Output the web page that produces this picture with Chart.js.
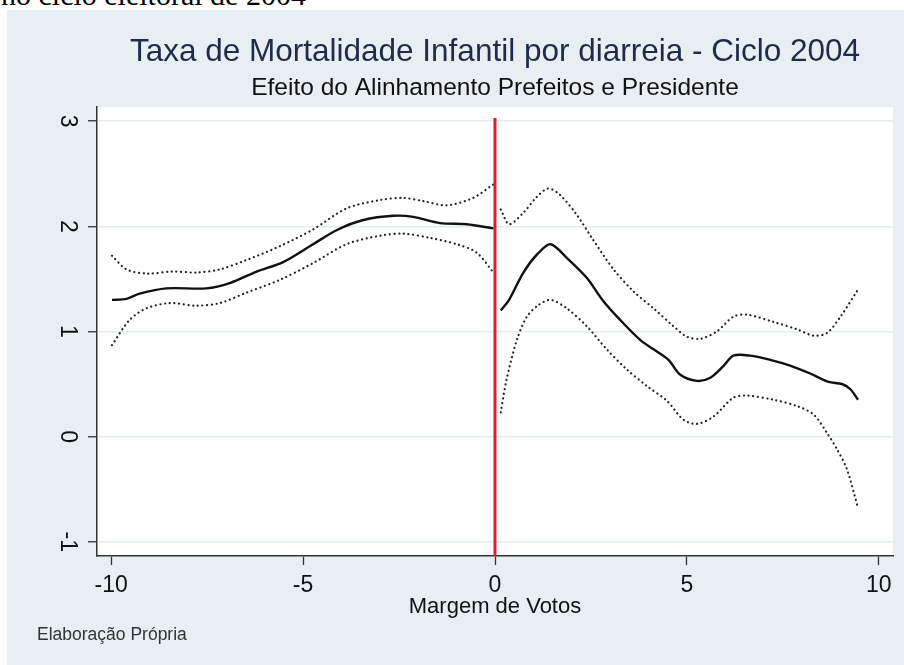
<!DOCTYPE html>
<html>
<head>
<meta charset="utf-8">
<script src="https://cdn.jsdelivr.net/npm/chart.js@4.4.1/dist/chart.umd.min.js"></script>
<style>
  body { margin: 0; width: 904px; height: 665px; overflow: hidden; position: relative; background: #fff; font-family: "Liberation Sans", Arial, sans-serif; }
  #panel { position: absolute; left: 7px; top: 10px; right: 0; bottom: 0; background: #e8eef1; }
  #doc { position: absolute; left: 1px; top: -20px; font-family: "Liberation Serif", "Times New Roman", serif; font-size: 30px; line-height: 30px; color: #000; white-space: nowrap; }
  #note { position: absolute; left: 37px; top: 626px; font-size: 17.5px; line-height: 17px; color: #333; white-space: nowrap; }
  #wrap { position: absolute; left: 0; top: 0; width: 904px; height: 665px; }
</style>
</head>
<body>
<div id="panel"></div>
<div id="doc">no ciclo eleitoral de 2004</div>
<div id="wrap"><canvas id="rd-chart"></canvas></div>
<div id="note">Elaboração Própria</div>
<script>
// tick labels
const xTicks = [-10, -5, 0, 5, 10];
const yTicks = [-1, 0, 1, 2, 3];

// [margem, taxa]
const fitLeft = [[-9.98, 1.30], [-9.6, 1.31], [-9.26, 1.36], [-8.56, 1.41], [-7.52, 1.41], [-6.91, 1.46], [-6.21, 1.57], [-5.52, 1.66], [-4.74, 1.83], [-4.09, 1.97], [-3.43, 2.06], [-2.65, 2.10], [-2.13, 2.09], [-1.43, 2.03], [-0.74, 2.02], [-0.04, 1.98]];
const upperLeft = [[-9.98, 1.72], [-9.6, 1.59], [-9.08, 1.55], [-8.39, 1.57], [-7.78, 1.56], [-7.17, 1.59], [-6.47, 1.68], [-5.61, 1.81], [-4.74, 1.97], [-3.87, 2.17], [-3.0, 2.25], [-2.39, 2.27], [-1.87, 2.24], [-1.26, 2.20], [-0.57, 2.27], [-0.04, 2.40]];
const lowerLeft = [[-9.98, 0.87], [-9.52, 1.11], [-9.08, 1.22], [-8.47, 1.27], [-7.78, 1.245], [-7.17, 1.27], [-6.47, 1.37], [-5.61, 1.49], [-4.74, 1.65], [-3.87, 1.83], [-3.0, 1.91], [-2.39, 1.93], [-1.69, 1.89], [-1.0, 1.83], [-0.48, 1.75], [-0.04, 1.56]];

const fitRight = [[0.15, 1.20], [0.35, 1.29], [0.74, 1.56], [1.09, 1.73], [1.45, 1.83], [1.87, 1.70], [2.39, 1.51], [2.82, 1.29], [3.26, 1.11], [3.78, 0.92], [4.13, 0.83], [4.52, 0.73], [4.82, 0.59], [5.26, 0.53], [5.61, 0.56], [5.95, 0.67], [6.21, 0.77], [6.65, 0.77], [7.17, 0.73], [7.69, 0.675], [8.21, 0.60], [8.69, 0.52], [9.04, 0.50], [9.26, 0.45], [9.46, 0.35]];
const upperRight = [[0.15, 2.16], [0.37, 2.02], [0.74, 2.13], [1.09, 2.28], [1.39, 2.36], [1.69, 2.30], [2.13, 2.11], [2.56, 1.87], [3.09, 1.59], [3.61, 1.38], [4.13, 1.22], [4.65, 1.05], [5.0, 0.95], [5.35, 0.93], [5.78, 1.00], [6.21, 1.14], [6.56, 1.16], [7.26, 1.09], [7.87, 1.02], [8.30, 0.96], [8.65, 0.985], [9.0, 1.14], [9.46, 1.40]];
const lowerRight = [[0.15, 0.23], [0.30, 0.54], [0.57, 0.92], [0.83, 1.14], [1.13, 1.25], [1.45, 1.30], [1.87, 1.22], [2.39, 1.05], [2.91, 0.83], [3.43, 0.64], [3.96, 0.48], [4.48, 0.34], [4.91, 0.16], [5.26, 0.12], [5.69, 0.19], [6.21, 0.37], [6.56, 0.39], [7.26, 0.35], [7.87, 0.29], [8.30, 0.21], [8.65, 0.035], [8.91, -0.12], [9.17, -0.31], [9.46, -0.68]];

// vertical line at the cutoff
const cutoff = [[0, -1.14], [0, 3.03]];

const toPts = arr => arr.map(p => ({ x: p[0], y: p[1] }));

Chart.defaults.font.family = '"Liberation Sans", Arial, sans-serif';
Chart.defaults.color = '#111';

const solid = data => ({
    data: toPts(data),
    borderColor: '#111',
    borderWidth: 2.4,
    tension: 0.3,
    pointRadius: 0,
    showLine: true
});
const dotted = data => ({
    data: toPts(data),
    borderColor: '#222',
    borderWidth: 2.2,
    borderDash: [0.1, 4.6],
    borderCapStyle: 'round',
    tension: 0.3,
    pointRadius: 0,
    showLine: true
});

const plotBg = {
    id: 'plotBg',
    beforeDraw(chart) {
        const { ctx, chartArea: a } = chart;
        ctx.save();
        ctx.fillStyle = '#fff';
        ctx.fillRect(a.left, a.top, a.right - a.left, a.bottom - a.top);
        ctx.restore();
    },
    // stata style vertical y labels
    afterDraw(chart) {
        const { ctx } = chart;
        const y = chart.scales.y;
        ctx.save();
        ctx.font = '23px "Liberation Sans", Arial, sans-serif';
        ctx.fillStyle = '#111';
        ctx.textAlign = 'center';
        ctx.textBaseline = 'middle';
        yTicks.forEach(v => {
            ctx.save();
            ctx.translate(67, y.getPixelForValue(v));
            ctx.rotate(Math.PI / 2);
            ctx.fillText(String(v), 0, 0);
            ctx.restore();
        });
        ctx.restore();
    }
};

const ctx = document.getElementById('rd-chart');

const rdChart = new Chart(ctx, {
    type: 'scatter',
    data: {
        datasets: [
            { data: toPts(cutoff), borderColor: '#d2232f', borderWidth: 3, pointRadius: 0, showLine: true },
            solid(fitLeft),
            dotted(upperLeft),
            dotted(lowerLeft),
            solid(fitRight),
            dotted(upperRight),
            dotted(lowerRight)
        ]
    },
    options: {
        responsive: true,
        maintainAspectRatio: false,
        animation: false,
        layout: { padding: { top: 0, right: 11, bottom: 0, left: 0 } },
        plugins: {
            legend: { display: false },
            tooltip: { enabled: false },
            title: {
                display: true,
                fullSize: false,
                text: 'Taxa de Mortalidade Infantil por diarreia - Ciclo 2004',
                color: '#1f2b4b',
                font: { size: 31.5, weight: 'normal' },
                padding: { top: 33, bottom: 0 }
            },
            subtitle: {
                display: true,
                fullSize: false,
                text: 'Efeito do Alinhamento Prefeitos e Presidente',
                color: '#111',
                font: { size: 24.5 },
                padding: { top: 3, bottom: 4 }
            }
        },
        scales: {
            x: {
                type: 'linear',
                min: -10.37,
                max: 10.37,
                afterBuildTicks: s => { s.ticks = xTicks.map(v => ({ value: v })); },
                afterFit: s => { s.height = 109; },
                grid: { drawOnChartArea: false, tickLength: 9, tickColor: '#333', tickWidth: 1.3 },
                border: { color: '#333', width: 1.5 },
                ticks: { font: { size: 23 }, color: '#111', padding: 7, maxRotation: 0 },
                title: {
                    display: true,
                    text: 'Margem de Votos',
                    font: { size: 22 },
                    color: '#111',
                    padding: { top: 0, bottom: 45 }
                }
            },
            y: {
                min: -1.136,
                max: 3.133,
                afterBuildTicks: s => { s.ticks = yTicks.map(v => ({ value: v })); },
                afterFit: s => { s.width = 97; },
                grid: { color: '#e4ecee', lineWidth: 1.5, tickLength: 9, tickColor: '#333', tickWidth: 1.3 },
                border: { color: '#333', width: 1.5 },
                ticks: { display: false }
            }
        }
    },
    plugins: [plotBg]
});
</script>
</body>
</html>
